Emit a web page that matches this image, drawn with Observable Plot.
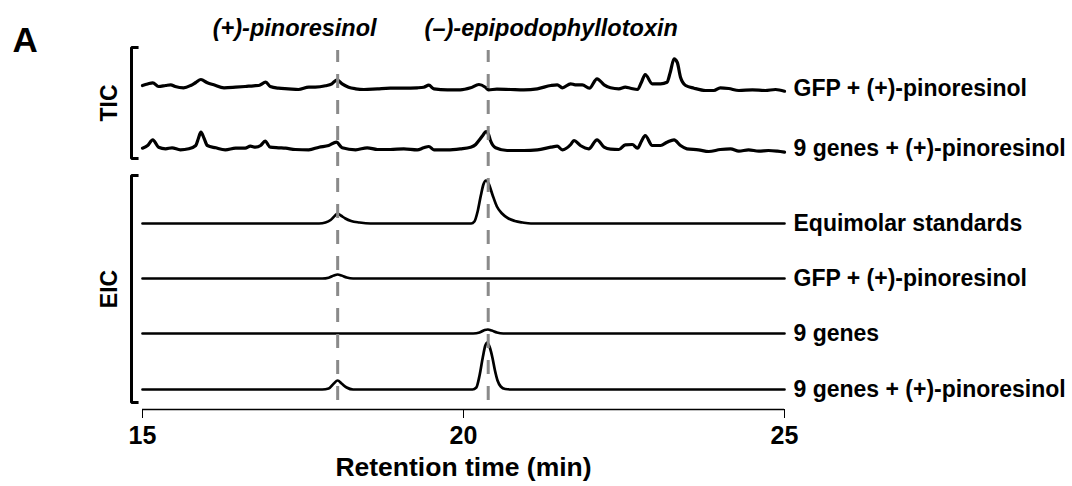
<!DOCTYPE html>
<html>
<head>
<meta charset="utf-8">
<script src="https://cdn.jsdelivr.net/npm/d3@7"></script>
<script src="https://cdn.jsdelivr.net/npm/@observablehq/plot@0.6"></script>
<style>
  html, body { margin: 0; padding: 0; background: #fff; }
  #chart svg { display: block; }
</style>
</head>
<body>
<div id="chart"></div>
<script>
// ---- data ----
const traceNames = [
  "GFP + (+)-pinoresinol",
  "9 genes + (+)-pinoresinol",
  "Equimolar standards",
  "GFP + (+)-pinoresinol",
  "9 genes",
  "9 genes + (+)-pinoresinol"
];
const traceGroup = ["TIC", "TIC", "EIC", "EIC", "EIC", "EIC"];
const laneOffsets = [321, 261, 186, 131, 76, 20];
const groupLabels = ["TIC", "EIC"];
const compoundNames = ["(+)-pinoresinol", "(\u2013)-epipodophyllotoxin"];
const compoundRt = [18.04, 20.385];
const xTicks = [15, 20, 25];
const panelLetter = "A";
const xLabel = "Retention time (min)";

// [retention time, intensity above lane baseline]
const ticGfpPin = [
  [15.00,3],[15.08,4.5],[15.16,5.7],[15.25,2],[15.36,3],[15.44,3.7],[15.51,2],[15.64,0.7],[15.75,3],[15.83,6],
  [15.91,9],[16.01,5.7],[16.11,3.7],[16.27,0.7],[16.45,1.3],[16.60,2],[16.73,2.7],[16.81,3],[16.92,6.3],[16.99,2],
  [17.12,0.3],[17.27,-0.3],[17.43,-1],[17.59,1.3],[17.69,1.3],[17.85,2.7],[17.95,4.7],[18.03,8.7],[18.11,4.7],[18.21,1.3],
  [18.32,-0.3],[18.45,-1],[18.66,-0.3],[18.86,0.3],[19.07,0.3],[19.28,0.7],[19.38,1.3],[19.46,3.3],[19.54,-0.3],[19.75,-1.3],
  [19.95,-1.3],[20.11,0.7],[20.24,4],[20.34,1.3],[20.39,-1.3],[20.52,-0.7],[20.73,-1],[20.94,-1.3],[21.15,-0.3],[21.36,3],
  [21.46,3.7],[21.54,0.7],[21.67,4.7],[21.74,3.7],[21.85,3.7],[21.96,0.3],[22.08,9.7],[22.19,3.7],[22.29,0.7],[22.42,-0.3],
  [22.52,1.3],[22.60,0.3],[22.71,-1],[22.77,6],[22.83,14],[22.94,4.7],[23.07,4.7],[23.17,6.3],[23.22,16],[23.28,29.7],
  [23.33,26],[23.38,11.3],[23.46,3],[23.59,0.3],[23.77,-2],[23.90,-2],[24.00,0.7],[24.13,0],[24.29,-2],[24.50,-1.3],
  [24.70,-2],[24.86,-1],[25.00,-2.7]
];
const ticGenesPin = [
  [15.00,0.3],[15.08,3],[15.16,8.7],[15.25,1.3],[15.36,-0.3],[15.46,0.7],[15.59,-1.3],[15.72,-0.3],[15.83,3],[15.87,10],
  [15.91,16.3],[15.96,10],[16.01,3],[16.14,0.7],[16.29,-1.3],[16.45,0.3],[16.60,0.3],[16.68,2.3],[16.76,1.3],[16.84,3],
  [16.91,7.3],[16.99,1.3],[17.12,0.7],[17.23,0.3],[17.38,-1],[17.59,-1.3],[17.75,1.3],[17.90,3],[18.02,6.3],[18.11,0.7],
  [18.32,-1.3],[18.50,0.7],[18.66,-1],[18.86,-1],[19.07,-0.3],[19.28,-1.3],[19.38,0.7],[19.46,2],[19.54,-1.3],[19.75,-1.3],
  [19.95,-0.3],[20.11,1.3],[20.19,4],[20.24,8],[20.30,13],[20.35,17],[20.39,14],[20.42,8],[20.50,0.7],[20.68,-2],
  [20.94,-2],[21.15,-1.3],[21.36,1.3],[21.46,2.3],[21.54,-1.3],[21.67,4],[21.72,8],[21.82,3],[21.95,-0.3],[22.08,8.7],
  [22.19,1.3],[22.29,-0.7],[22.42,-1],[22.52,3.7],[22.63,4],[22.71,0.3],[22.77,7],[22.83,13],[22.94,3],[23.07,3],
  [23.17,6.3],[23.28,8.7],[23.38,3],[23.48,-0.3],[23.66,-1.3],[23.82,-3],[24.00,-1],[24.16,-0.3],[24.29,-2.7],[24.44,-1.3],
  [24.60,-2.7],[24.75,-2],[24.89,-2.7],[25.00,-3.7]
];
const eicStandards = [
  [15,0],[17.75,0],[17.85,1],[17.93,3.5],[18.00,8],[18.04,10],[18.09,8],[18.16,5],[18.25,2.5],[18.38,1],
  [18.55,0],[20.12,0],[20.17,2],[20.22,12],[20.27,28],[20.31,39],[20.35,43],[20.39,40],[20.45,29],[20.52,17],
  [20.60,10],[20.70,5],[20.80,2.5],[20.92,1],[21.05,0],[25,0]
];
const eicGfpPin = [
  [15,0],[17.80,0],[17.90,0.8],[17.98,3],[18.04,4],[18.10,3],[18.18,1],[18.28,0],[25,0]
];
const eicGenes = [
  [15,0],[20.15,0],[20.25,1],[20.33,3.5],[20.38,4],[20.44,3],[20.52,1],[20.62,0],[25,0]
];
const eicGenesPin = [
  [15,0],[17.80,0],[17.90,1],[17.98,6],[18.04,9],[18.10,6],[18.18,2],[18.28,0],[20.14,0],[20.20,2],
  [20.25,14],[20.30,32],[20.34,44],[20.37,47],[20.41,42],[20.45,32],[20.49,19],[20.53,9],[20.58,3],[20.65,0.5],
  [20.75,0],[25,0]
];

// ---- build table ----
const traceSeries = [ticGfpPin, ticGenesPin, eicStandards, eicGfpPin, eicGenes, eicGenesPin];
const points = traceSeries.flatMap((s, i) =>
  s.map(([rt, v]) => ({rt, y: laneOffsets[i] + v, trace: i, group: traceGroup[i]})));
const xMin = xTicks[0], xMax = xTicks[xTicks.length - 1];
const lanes = traceNames.map((name, i) => ({name, y: laneOffsets[i], group: traceGroup[i], rt: xMax}));

// bracket geometry (style constants, in chart units)
const bracketPadTop = [41, 48];
const bracketPadBottom = [10, 13];
const bracketArm = 0.11; // minutes
const groups = groupLabels.map((g, i) => {
  const ys = lanes.filter(l => l.group === g).map(l => l.y);
  const top = d3.max(ys) + bracketPadTop[i], bottom = d3.min(ys) - bracketPadBottom[i];
  return {label: g, top, bottom, mid: (top + bottom) / 2, rt: xMin};
});
const bracketPts = groups.flatMap(g => [
  {g: g.label, rt: xMin + bracketArm, y: g.top},
  {g: g.label, rt: xMin, y: g.top},
  {g: g.label, rt: xMin, y: g.bottom},
  {g: g.label, rt: xMin + bracketArm, y: g.bottom}
]);
const compounds = compoundNames.map((name, i) => ({name, rt: compoundRt[i]}));

const sans = "'Liberation Sans',Arial,Helvetica,sans-serif";

const chart = Plot.plot({
  width: 1072,
  height: 486,
  marginLeft: 142,
  marginRight: 288,
  marginTop: 41,
  marginBottom: 77,
  x: {type: "linear", domain: [xMin, xMax]},
  y: {type: "linear", domain: [0, 368], axis: null},
  style: {fontFamily: sans, color: "black", background: "white"},
  marks: [
    // traces
    Plot.line(points.filter(d => d.group === "TIC"), {x: "rt", y: "y", z: "trace", curve: "monotone-x", stroke: "black", strokeWidth: 3.2}),
    Plot.line(points.filter(d => d.group === "EIC"), {x: "rt", y: "y", z: "trace", curve: "monotone-x", stroke: "black", strokeWidth: 2.7}),
    // dashed reference lines at the compound retention times
    Plot.ruleX(compounds, {x: "rt", y1: 9, y2: 359, stroke: "#8a8a8a", strokeWidth: 3, strokeDasharray: "14,12"}),
    // trace labels
    Plot.text(lanes, {x: "rt", y: "y", text: "name", textAnchor: "start", dx: 9, fontSize: 23, fontWeight: "bold", fontFamily: sans}),
    // group brackets
    Plot.line(bracketPts, {x: "rt", y: "y", z: "g", dx: -11, stroke: "black", strokeWidth: 3, strokeLinejoin: "miter", strokeLinecap: "butt"}),
    Plot.text(groups, {x: "rt", y: "mid", text: "label", rotate: -90, dx: -33, fontSize: 23, fontWeight: "bold", fontFamily: sans}),
    // compound labels
    Plot.text(compounds.slice(0, 1), {x: "rt", text: "name", frameAnchor: "top", lineAnchor: "middle", dy: -13, dx: -43, fontSize: 23.5, fontWeight: "bold", fontStyle: "italic", fontFamily: sans}),
    Plot.text(compounds.slice(1), {x: "rt", text: "name", frameAnchor: "top", lineAnchor: "middle", dy: -13, dx: 63, fontSize: 23.5, fontWeight: "bold", fontStyle: "italic", fontFamily: sans}),
    // x axis
    Plot.ruleY([0], {stroke: "black", strokeWidth: 1.5}),
    Plot.axisX({ticks: xTicks, tickSize: 9, tickPadding: 8, tickFormat: d => String(d), fontSize: 25, fontWeight: "bold", fontFamily: sans, label: null}),
    Plot.text([xLabel], {frameAnchor: "bottom", lineAnchor: "middle", dy: 58, fontSize: 26.5, fontWeight: "bold", fontFamily: sans}),
    Plot.text([panelLetter], {frameAnchor: "top-left", lineAnchor: "middle", dx: -130, dy: -1, textAnchor: "start", fontSize: 35, fontWeight: "bold", fontFamily: sans})
  ]
});
document.getElementById("chart").appendChild(chart);
</script>
</body>
</html>
